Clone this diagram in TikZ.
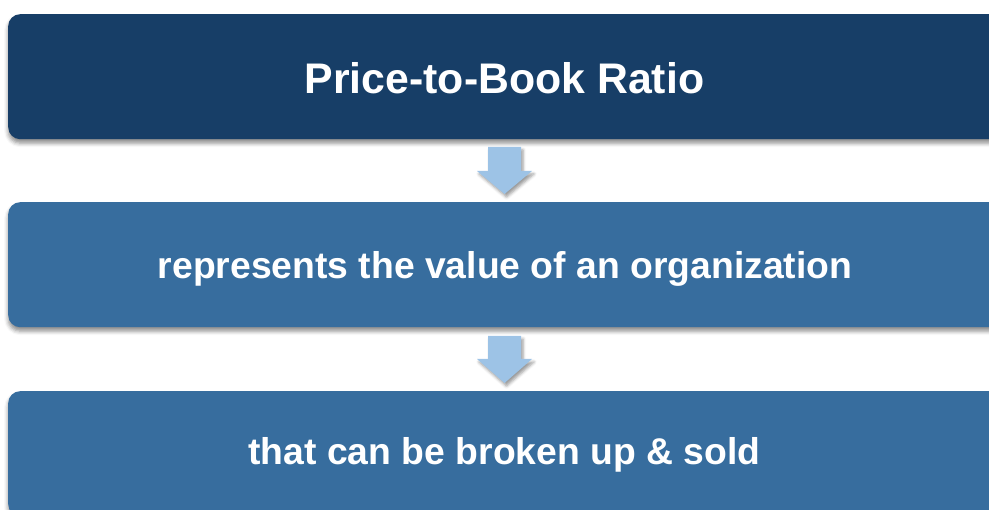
\documentclass[tikz,border=0pt]{standalone}
\usepackage{fontspec}
\setmainfont{Liberation Sans}
\usetikzlibrary{shadows,shadows.blur}
\definecolor{darkbox}{HTML}{173E67}
\definecolor{midbox}{HTML}{376D9E}
\definecolor{arrowblue}{HTML}{9DC3E6}
\tikzset{
  stepbox/.style={fill=#1, rounded corners=12pt, draw=none, minimum width=1000pt, minimum height=125pt, anchor=north west, inner sep=0pt,
    blur shadow={shadow xshift=0pt, shadow yshift=-4pt, shadow blur radius=4pt, shadow opacity=45}},
  lbl/.style={text=white, font=\bfseries\fontsize{#1}{#1}\selectfont, anchor=base, inner sep=0pt},
  downarrow/.style={fill=arrowblue, draw=none, blur shadow={shadow xshift=2pt, shadow yshift=-3pt, shadow blur radius=3pt, shadow opacity=40}}
}
\begin{document}
\begin{tikzpicture}[x=1pt,y=-1pt]
\useasboundingbox (0,0) rectangle (989,510);
\clip (0,0) rectangle (989,510);
\node[stepbox=darkbox] (b1) at (8,14) {};
\node[stepbox=midbox] (b2) at (8,202) {};
\node[stepbox=midbox] (b3) at (8,391) {};
\node[lbl=42.8pt] (t1) at (504.5,94) {Price-to-Book Ratio};
\node[lbl=37.3pt] (t2) at (505,279) {represents the value of an organization};
\node[lbl=37.3pt] (t3) at (504.5,465) {that can be broken up \& sold};
\path[downarrow] (488,147) -- (521,147) -- (521,171) -- (532,171) -- (504.5,194) -- (477,171) -- (488,171) -- cycle;
\path[downarrow] (488,336) -- (521,336) -- (521,359) -- (532,359) -- (504.5,383) -- (477,359) -- (488,359) -- cycle;
\end{tikzpicture}
\end{document}
